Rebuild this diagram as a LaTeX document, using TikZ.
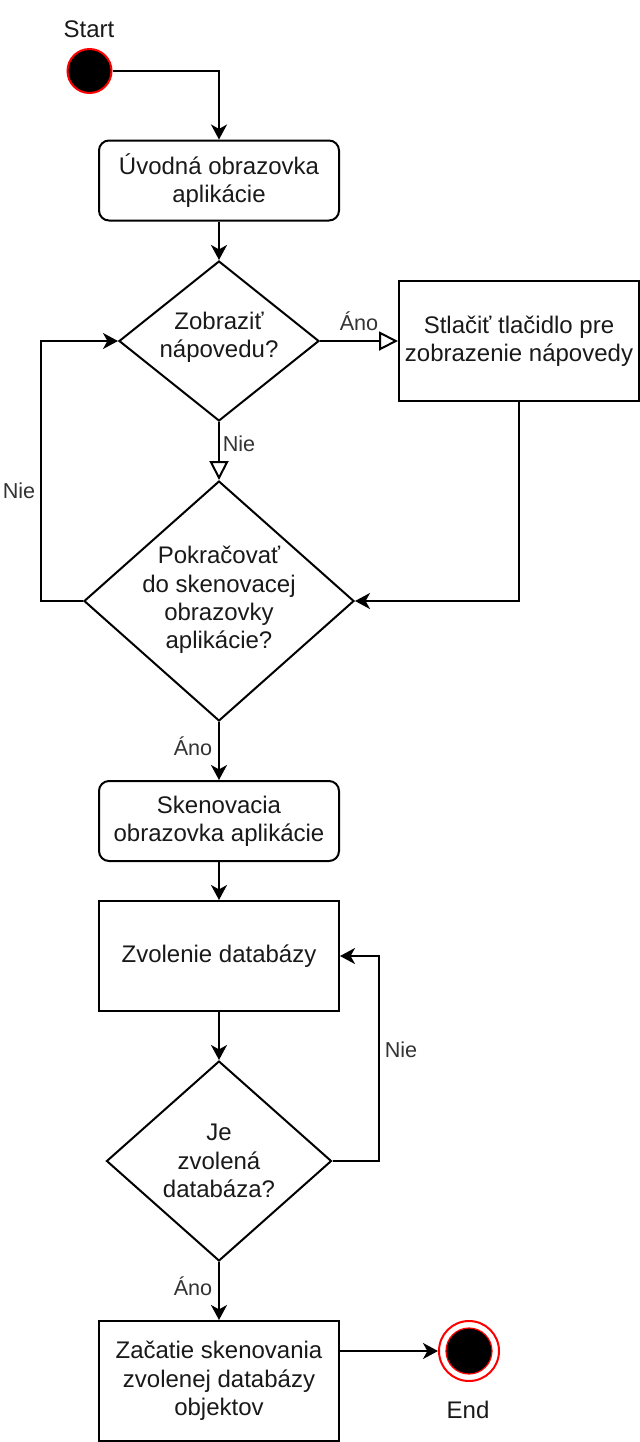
\documentclass[tikz,border=0pt]{standalone}
\usepackage{fontspec}
\setmainfont{Liberation Sans}
\usetikzlibrary{shapes.geometric,arrows.meta}
\begin{document}
\begin{tikzpicture}[x=0.5pt,y=-0.5pt,
  every node/.style={font=\fontsize{12}{14.2}\selectfont, text=black!90},
  box/.style={draw, line width=1pt, minimum width=120pt, align=center, inner sep=0pt},
  rbox/.style={box, rounded corners=5pt},
  dia/.style={draw, diamond, line width=1pt, inner sep=0pt},
  lbl/.style={font=\fontsize{10.8}{13}\selectfont, text=black!80, inner sep=1pt},
  arr/.style={draw, line width=1pt, -{Stealth[length=7.5pt,width=8pt,inset=2.2pt]}},
  oarr/.style={draw, line width=1pt, -{Triangle[open,length=9.5pt,width=9.5pt,fill=white]}},
  line/.style={draw, line width=1pt}]
\useasboundingbox (0,0) rectangle (640,1442);
% start / end
\node (start) at (89.5,71) [circle, draw=red, line width=1pt, fill=black, minimum size=22pt, inner sep=0pt] {};
\node (startlbl) at (89,29) {Start};
\node (end) at (469,1351) [circle, draw=red, line width=1pt, fill=white, minimum size=30pt, inner sep=0pt] {};
\node (endin) at (469,1351) [circle, draw=red, line width=0.6pt, fill=black, minimum size=23pt, inner sep=0pt] {};
\node (endlbl) at (468,1410) {End};
% boxes
\node (b1) at (219,180.5) [rbox, minimum height=40pt] {Úvodná obrazovka\\aplikácie};
\node (b2) at (519,341) [box, minimum height=60pt] {Stlačiť tlačidlo pre\\zobrazenie nápovedy};
\node (b3) at (219,821) [rbox, minimum height=40pt] {Skenovacia\\obrazovka aplikácie};
\node (b4) at (219,956) [box, minimum height=55pt] {Zvolenie databázy};
\node (b5) at (219,1381) [box, minimum height=60pt] {Začatie skenovania\\zvolenej databázy\\objektov};
% diamonds
\node (d1) at (219,341) [dia, minimum width=100pt, minimum height=80pt] {};
\node (d1t) at (219,337) [align=center] {Zobraziť\\nápovedu?};
\node (d2) at (219,601) [dia, minimum width=135pt, minimum height=120pt] {};
\node (d2t) at (219,600) [align=center] {Pokračovať\\do skenovacej\\obrazovky\\aplikácie?};
\node (d3) at (219,1161) [dia, minimum width=112.5pt, minimum height=100pt] {};
\node (d3t) at (219,1161) [align=center] {Je\\zvolená\\databáza?};
% helper coordinates
\coordinate (cL) at (41,601);
\coordinate (cR) at (379,956);
% connectors
\draw[arr] (start) -| (b1);
\draw[arr] (b1) -- (d1);
\draw[oarr] (d1.east) -- (b2.west);
\draw[arr] (b2) |- (d2.east);
\draw[oarr] (d1.south) -- (d2.north);
\draw[arr] (d2.west) -- (cL) |- (d1.west);
\draw[arr] (d2.south) -- (b3.north);
\draw[arr] (b3) -- (b4);
\draw[arr] (b4) -- (d3.north);
\draw[arr] (d3.east) -| (cR) -- (b4.east);
\draw[arr] (d3.south) -- (b5.north);
\draw[arr] (b5.east |- end) -- (end);
% labels
\node[lbl] (l1) at (359,321) {Áno};
\node[lbl] (l2) at (239,444) {Nie};
\node[lbl] (l3) at (19,491) {Nie};
\node[lbl] (l4) at (193,746) {Áno};
\node[lbl] (l5) at (401,1050) {Nie};
\node[lbl] (l6) at (193,1286) {Áno};
\end{tikzpicture}
\end{document}
